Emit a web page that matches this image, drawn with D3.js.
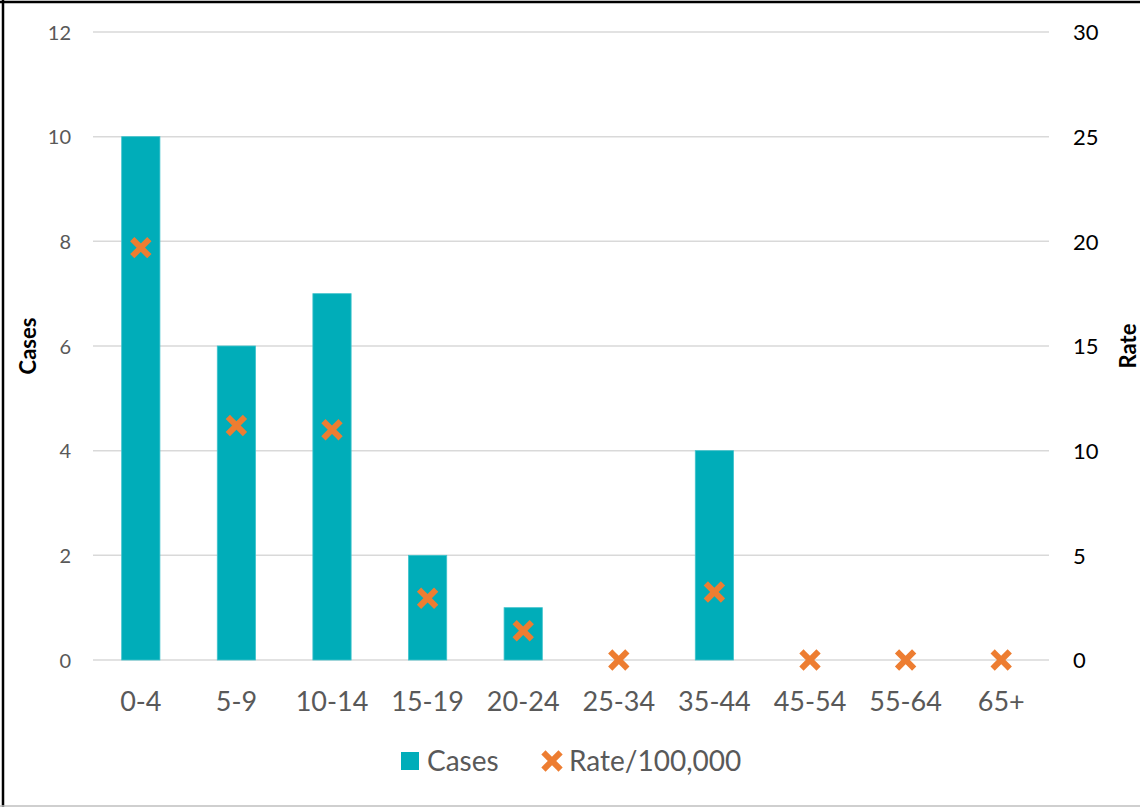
<!DOCTYPE html>
<html>
<head>
<meta charset="utf-8">
<script src="https://cdn.jsdelivr.net/npm/d3@7"></script>
<style>
  html, body { margin: 0; padding: 0; background: #fff; }
  svg { display: block; font-family: Lato, "Open Sans", sans-serif; }
</style>
</head>
<body>
<svg id="chart" width="1140" height="807"></svg>
<script>
const categories = ["0-4", "5-9", "10-14", "15-19", "20-24", "25-34", "35-44", "45-54", "55-64", "65+"];
const cases = [10, 6, 7, 2, 1, 0, 4, 0, 0, 0];
const rates = [19.7, 11.2, 11.0, 2.95, 1.4, 0, 3.25, 0, 0, 0];
const leftTicks = [0, 2, 4, 6, 8, 10, 12];
const rightTicks = [0, 5, 10, 15, 20, 25, 30];
const seriesNames = ["Cases", "Rate/100,000"];

const barColor = "#00ADB9";
const markColor = "#ED7D31";

const svg = d3.select("#chart");
const W = 1140, H = 807;
const plot = { left: 93, right: 1049, top: 32, bottom: 660 };

// frame
svg.append("line").attr("x1", 3).attr("x2", 3).attr("y1", 0).attr("y2", H).attr("stroke", "#000").attr("stroke-width", 2.5);
svg.append("line").attr("x1", 0).attr("x2", W).attr("y1", 2).attr("y2", 2).attr("stroke", "#000").attr("stroke-width", 2.5);
svg.append("line").attr("x1", 0).attr("x2", W).attr("y1", 806).attr("y2", 806).attr("stroke", "#bfbfbf").attr("stroke-width", 1.5);

const x = d3.scaleBand().domain(categories).range([plot.left, plot.right]).paddingInner(0.6).paddingOuter(0.3);
const yL = d3.scaleLinear().domain([0, 12]).range([plot.bottom, plot.top]);
const yR = d3.scaleLinear().domain([0, 30]).range([plot.bottom, plot.top]);

// gridlines
svg.append("g").selectAll("line").data(leftTicks).join("line")
  .attr("x1", plot.left).attr("x2", plot.right)
  .attr("y1", d => yL(d)).attr("y2", d => yL(d))
  .attr("stroke", "#D9D9D9").attr("stroke-width", 1.5);

// left axis
const axL = svg.append("g").attr("transform", `translate(${plot.left - 22},0)`)
  .call(d3.axisLeft(yL).tickValues(leftTicks).tickSize(0).tickPadding(0));
axL.select(".domain").remove();
axL.selectAll("text").attr("font-size", 20).attr("fill", "#595959").attr("font-family", "Lato, sans-serif").attr("dy", "0.35em");

// right axis
const axR = svg.append("g").attr("transform", `translate(${plot.right + 24},0)`)
  .call(d3.axisRight(yR).tickValues(rightTicks).tickSize(0).tickPadding(0));
axR.select(".domain").remove();
axR.selectAll("text").attr("font-size", 22).attr("fill", "#000").attr("font-family", "Lato, sans-serif").attr("dy", "0.35em");

// bottom axis
const axB = svg.append("g").attr("transform", `translate(0,${plot.bottom})`)
  .call(d3.axisBottom(x).tickSize(0).tickPadding(0));
axB.select(".domain").remove();
axB.selectAll("text").attr("font-size", 27).attr("fill", "#595959").attr("font-family", "Lato, sans-serif").attr("dy", "0").attr("y", 51);

// bars
svg.append("g").selectAll("rect").data(categories.map((c, i) => ({ c, v: cases[i] }))).join("rect")
  .filter(d => d.v > 0)
  .attr("x", d => x(d.c)).attr("width", x.bandwidth())
  .attr("y", d => yL(d.v)).attr("height", d => yL(0) - yL(d.v))
  .attr("fill", barColor).attr("stroke", "#3fc3cc").attr("stroke-width", 0.8);

// markers
const xSym = d3.symbol().type(d3.symbolX).size(110);
svg.append("g").selectAll("path").data(categories.map((c, i) => ({ c, v: rates[i] }))).join("path")
  .attr("transform", d => `translate(${x(d.c) + x.bandwidth() / 2},${yR(d.v)})`)
  .attr("d", xSym)
  .attr("fill", "none").attr("stroke", markColor).attr("stroke-width", 6).attr("stroke-linecap", "square");

// axis titles
svg.append("text").attr("transform", `translate(36,${(plot.top + plot.bottom) / 2}) rotate(-90)`)
  .attr("text-anchor", "middle").attr("font-size", 22).attr("font-weight", "bold").attr("fill", "#000").text("Cases");
svg.append("text").attr("transform", `translate(1136,${(plot.top + plot.bottom) / 2}) rotate(-90)`)
  .attr("text-anchor", "middle").attr("font-size", 22).attr("font-weight", "bold").attr("fill", "#000").text("Rate");

// legend
const lg = svg.append("g");
lg.append("rect").attr("x", 401).attr("y", 752).attr("width", 18).attr("height", 18).attr("fill", barColor);
lg.append("text").attr("x", 427).attr("y", 771).attr("font-size", 28).attr("fill", "#595959").text(seriesNames[0]);
lg.append("path").attr("transform", "translate(552,761)").attr("d", xSym)
  .attr("fill", "none").attr("stroke", markColor).attr("stroke-width", 6).attr("stroke-linecap", "square");
lg.append("text").attr("x", 569).attr("y", 771).attr("font-size", 28).attr("fill", "#595959").text(seriesNames[1]);
</script>
</body>
</html>
